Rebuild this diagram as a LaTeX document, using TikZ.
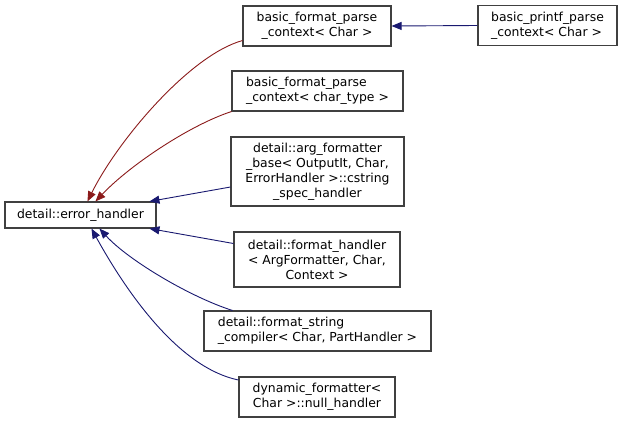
\documentclass[tikz,border=0pt]{standalone}
\usepackage{fontspec}
\setmainfont{DejaVu Sans}
\usetikzlibrary{arrows.meta,calc}
\definecolor{edgeblue}{HTML}{191970}
\definecolor{edgered}{HTML}{8B1A1A}
\begin{document}
\begin{tikzpicture}[x=1pt,y=-1pt,
  box/.style={draw=black!75,line width=1.1pt,fill=white,inner sep=0pt,
    font=\fontsize{12.4}{15}\selectfont,align=center},
  pub/.style={draw=edgeblue,line width=0.9pt,{Triangle[length=10pt,width=8pt,fill=edgeblue]}-},
  priv/.style={draw=edgered,line width=0.9pt,{Triangle[length=10pt,width=8pt,fill=edgered]}-}
]
\useasboundingbox (0,0) rectangle (623,423);

\node[box,minimum width=151,minimum height=26] (eh) at (80.5,215) {detail::error\_handler};
\node[box,minimum width=148,minimum height=40] (bfpc1) at (317,26) {basic\_format\_parse\\\_context< Char >};
\node[box,minimum width=139,minimum height=40,align=left] (bppc) at (547.5,25.5) {basic\_printf\_parse\\\_context< Char >};
\node[box,minimum width=171,minimum height=40,align=left] (bfpc2) at (317.5,91) {basic\_format\_parse\\\_context< char\_type >};
\node[box,minimum width=173,minimum height=69] (argf) at (317.5,171.5) {detail::arg\_formatter\\\_base< OutputIt, Char,\\ErrorHandler >::cstring\\\_spec\_handler};
\node[box,minimum width=166,minimum height=55] (fh) at (317,259.5) {detail::format\_handler\\< ArgFormatter, Char,\\Context >};
\node[box,minimum width=227,minimum height=40,align=left] (fsc) at (317.5,331) {detail::format\_string\\\_compiler< Char, PartHandler >};
\node[box,minimum width=156,minimum height=40] (df) at (317,397) {dynamic\_formatter<\\Char >::null\_handler};

\draw[pub] (bfpc1.east) -- (bppc.west);

\draw[priv]
  ($(eh.north west)+(83,0)$) .. controls (118,140) and (190,55) .. ($(bfpc1.south west)+(0,-6)$);
\draw[priv]
  ($(eh.north west)+(91,0)$) .. controls (130,165) and (190,125) .. (bfpc2.south west);

\draw[pub] ($(eh.north west)+(145,0)$) -- ($(argf.west)+(0,15.5)$);
\draw[pub] ($(eh.south west)+(145,0)$) -- ($(fh.west)+(0,-16)$);
\draw[pub]
  ($(eh.south west)+(95,0)$) .. controls (128,260) and (190,297) .. ($(fsc.north west)+(29,0)$);
\draw[pub]
  ($(eh.south west)+(87,0)$) .. controls (128,295) and (180,368) .. ($(df.west)+(0,-17)$);
\end{tikzpicture}
\end{document}
